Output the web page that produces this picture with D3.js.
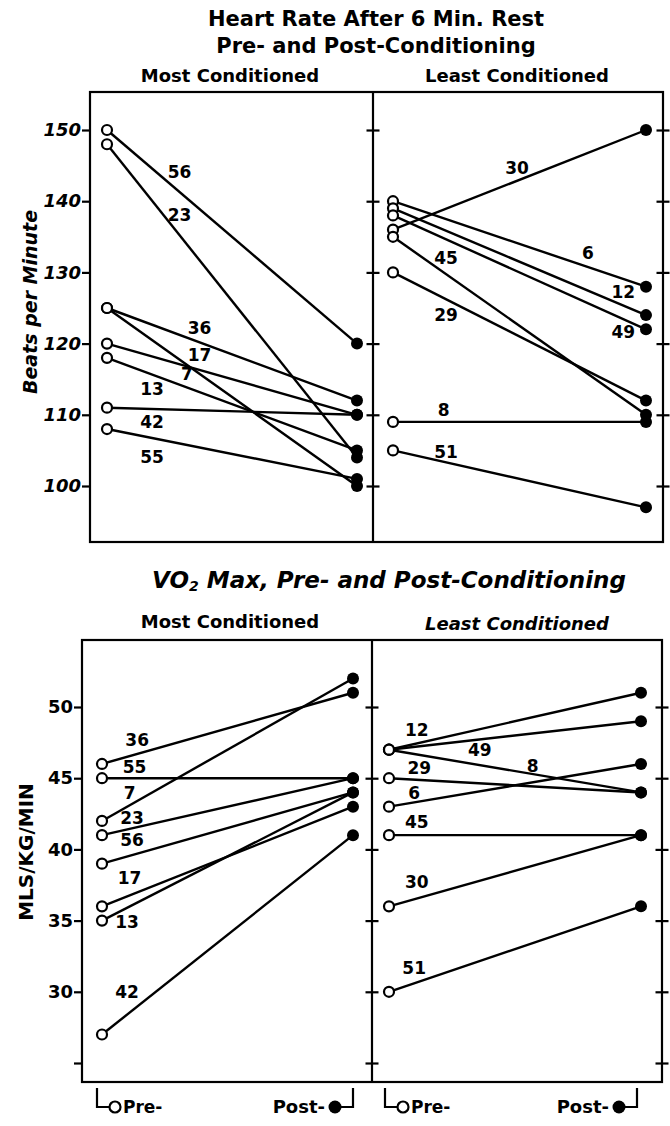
<!DOCTYPE html>
<html>
<head>
<meta charset="utf-8">
<script src="https://cdn.jsdelivr.net/npm/d3@7"></script>
<style>
  body { margin: 0; background: #fff; }
  svg text { font-family: "DejaVu Sans", "Liberation Sans", Arial, sans-serif; font-weight: bold; fill: #000; }
</style>
</head>
<body>
<div id="chart"></div>
<script>
// heart rate, most conditioned
var hrMostIds = ["56", "23", "36", "17", "7", "13", "42", "55"];
var hrMostPre = [150, 148, 125, 120, 125, 118, 111, 108];
var hrMostPost = [120, 104, 112, 110, 100, 105, 110, 101];

// heart rate, least conditioned
var hrLeastIds = ["6", "12", "49", "30", "45", "29", "8", "51"];
var hrLeastPre = [140, 139, 138, 136, 135, 130, 109, 105];
var hrLeastPost = [128, 124, 122, 150, 110, 112, 109, 97];

// VO2 max, most conditioned
var voMostIds = ["36", "55", "7", "23", "56", "17", "13", "42"];
var voMostPre = [46, 45, 42, 41, 39, 36, 35, 27];
var voMostPost = [51, 45, 52, 45, 44, 43, 44, 41];

// VO2 max, least conditioned
var voLeastIds = ["12", "49", "8", "29", "6", "45", "30", "51"];
var voLeastPre = [47, 47, 47, 45, 43, 41, 36, 30];
var voLeastPost = [51, 49, 44, 44, 46, 41, 41, 36];

var hrTicks = [100, 110, 120, 130, 140, 150];
var voTicks = [25, 30, 35, 40, 45, 50];
var voTickLabels = ["", "30", "35", "40", "45", "50"];

// where each subject number sits: [fraction from pre to post, value]
var hrMostLabelAt = [[0.29, 144.1], [0.29, 138.1], [0.37, 122.2], [0.37, 118.4], [0.32, 115.8], [0.18, 113.6], [0.18, 109.0], [0.18, 104.1]];
var hrLeastLabelAt = [[0.77, 132.7], [0.91, 127.2], [0.91, 121.6], [0.49, 144.7], [0.21, 132.0], [0.21, 124.0], [0.20, 110.7], [0.21, 104.8]];
var voMostLabelAt = [[0.14, 47.7], [0.13, 45.8], [0.11, 44.0], [0.12, 42.2], [0.12, 40.7], [0.11, 38.0], [0.10, 34.9], [0.10, 30.0]];
var voLeastLabelAt = [[0.11, 48.4], [0.36, 47.0], [0.57, 45.9], [0.12, 45.7], [0.10, 44.0], [0.11, 41.9], [0.11, 37.7], [0.10, 31.7]];

var svgWidth = 670;
var svgHeight = 1126;

var svg = d3.select("#chart")
    .append("svg")
    .attr("width", svgWidth)
    .attr("height", svgHeight);

var yHR = d3.scaleLinear().domain([100, 150]).range([486, 130]);
var yVO = d3.scaleLinear().domain([25, 50]).range([1063, 707]);

var topBox = { left: 90, mid: 373, right: 663, top: 92, bottom: 542 };
var botBox = { left: 82, mid: 372, right: 662, top: 640, bottom: 1082 };

function drawFrame(box) {
    svg.append("rect")
        .attr("x", box.left)
        .attr("y", box.top)
        .attr("width", box.right - box.left)
        .attr("height", box.bottom - box.top)
        .attr("fill", "none")
        .attr("stroke", "#000")
        .attr("stroke-width", 2.2);
    svg.append("line")
        .attr("x1", box.mid).attr("x2", box.mid)
        .attr("y1", box.top).attr("y2", box.bottom)
        .attr("stroke", "#000")
        .attr("stroke-width", 2.2);
}

function drawTicks(box, y, ticks, labels, italic) {
    var leftAxis = d3.axisLeft(y)
        .tickValues(ticks)
        .tickSize(8)
        .tickPadding(1)
        .tickFormat(function(d, i) { return labels[i]; });
    var g = svg.append("g")
        .attr("transform", `translate(${box.left}, 0)`)
        .call(leftAxis);
    g.select(".domain").remove();
    g.selectAll("line").attr("stroke", "#000").attr("stroke-width", 2.2);
    g.selectAll("text")
        .attr("font-size", "18px")
        .attr("font-style", italic ? "italic" : "normal")
        .attr("font-family", "DejaVu Sans, Liberation Sans, Arial, sans-serif");

    [box.mid, box.right].forEach(function(xPos) {
        var crossAxis = d3.axisRight(y).tickValues(ticks).tickSize(13).tickFormat("");
        var c = svg.append("g")
            .attr("transform", `translate(${xPos - 6.5}, 0)`)
            .call(crossAxis);
        c.select(".domain").remove();
        c.selectAll("line").attr("stroke", "#000").attr("stroke-width", 2.2);
    });
}

function drawPanel(x, y, ids, pre, post, labelAt) {
    var g = svg.append("g");
    var idx = d3.range(ids.length);

    g.selectAll(".link")
        .data(idx)
        .enter()
        .append("line")
        .attr("x1", x(0))
        .attr("y1", i => y(pre[i]))
        .attr("x2", x(1))
        .attr("y2", i => y(post[i]))
        .attr("stroke", "#000")
        .attr("stroke-width", 2.4);

    g.selectAll(".pre")
        .data(idx)
        .enter()
        .append("circle")
        .attr("cx", x(0))
        .attr("cy", i => y(pre[i]))
        .attr("r", 5)
        .attr("fill", "#fff")
        .attr("stroke", "#000")
        .attr("stroke-width", 2.2);

    g.selectAll(".post")
        .data(idx)
        .enter()
        .append("circle")
        .attr("cx", x(1))
        .attr("cy", i => y(post[i]))
        .attr("r", 6)
        .attr("fill", "#000");

    g.selectAll(".num")
        .data(idx)
        .enter()
        .append("text")
        .attr("x", i => x(labelAt[i][0]))
        .attr("y", i => y(labelAt[i][1]))
        .attr("dy", "0.36em")
        .attr("text-anchor", "middle")
        .attr("font-size", "17px")
        .text(i => ids[i]);
}

function heading(txt, xPos, yPos, size, italic) {
    return svg.append("text")
        .attr("x", xPos)
        .attr("y", yPos)
        .attr("text-anchor", "middle")
        .attr("font-size", size + "px")
        .attr("font-style", italic ? "italic" : "normal")
        .text(txt);
}

// top chart
heading("Heart Rate After 6 Min. Rest", 376, 26, 21, false);
heading("Pre- and Post-Conditioning", 376, 53, 21, false);
heading("Most Conditioned", 230, 82, 18, false);
heading("Least Conditioned", 517, 82, 18, false);

svg.append("text")
    .attr("transform", "translate(37, 302) rotate(-90)")
    .attr("text-anchor", "middle")
    .attr("font-size", "19px")
    .attr("font-style", "italic")
    .text("Beats per Minute");

drawFrame(topBox);
drawTicks(topBox, yHR, hrTicks, hrTicks.map(String), true);
drawPanel(d3.scaleLinear().range([107, 357]), yHR, hrMostIds, hrMostPre, hrMostPost, hrMostLabelAt);
drawPanel(d3.scaleLinear().range([393, 646]), yHR, hrLeastIds, hrLeastPre, hrLeastPost, hrLeastLabelAt);

// bottom chart
var voTitle = svg.append("text")
    .attr("x", 389)
    .attr("y", 588)
    .attr("text-anchor", "middle")
    .attr("font-size", "23px")
    .attr("font-style", "italic");
voTitle.append("tspan").text("VO");
voTitle.append("tspan").attr("font-size", "14px").attr("dy", 3).text("2");
voTitle.append("tspan").attr("dy", -3).text(" Max, Pre- and Post-Conditioning");

heading("Most Conditioned", 230, 628, 18, false);
heading("Least Conditioned", 517, 630, 18, true);

svg.append("text")
    .attr("transform", "translate(33, 852) rotate(-90)")
    .attr("text-anchor", "middle")
    .attr("font-size", "20px")
    .text("MLS/KG/MIN");

drawFrame(botBox);
drawTicks(botBox, yVO, voTicks, voTickLabels, false);
var xVoMost = d3.scaleLinear().range([102, 353]);
var xVoLeast = d3.scaleLinear().range([389, 641]);
drawPanel(xVoMost, yVO, voMostIds, voMostPre, voMostPost, voMostLabelAt);
drawPanel(xVoLeast, yVO, voLeastIds, voLeastPre, voLeastPost, voLeastLabelAt);

// Pre- / Post- keys under each bottom panel
[[97, 353], [385, 637]].forEach(function(k) {
    var x0 = k[0], x1 = k[1], yb = 1107;
    var key = svg.append("g");
    key.append("path")
        .attr("d", `M${x0},${botBox.bottom + 6} V${yb} H${x0 + 12}`)
        .attr("fill", "none").attr("stroke", "#000").attr("stroke-width", 2.2);
    key.append("circle")
        .attr("cx", x0 + 18).attr("cy", yb).attr("r", 5.5)
        .attr("fill", "#fff").attr("stroke", "#000").attr("stroke-width", 2.2);
    key.append("text")
        .attr("x", x0 + 26).attr("y", yb + 6)
        .attr("font-size", "17px")
        .text("Pre-");
    key.append("path")
        .attr("d", `M${x1 - 12},${yb} H${x1} V${botBox.bottom + 6}`)
        .attr("fill", "none").attr("stroke", "#000").attr("stroke-width", 2.2);
    key.append("circle")
        .attr("cx", x1 - 18).attr("cy", yb).attr("r", 6.5)
        .attr("fill", "#000");
    key.append("text")
        .attr("x", x1 - 28).attr("y", yb + 6)
        .attr("text-anchor", "end")
        .attr("font-size", "18px")
        .text("Post-");
});
</script>
</body>
</html>
